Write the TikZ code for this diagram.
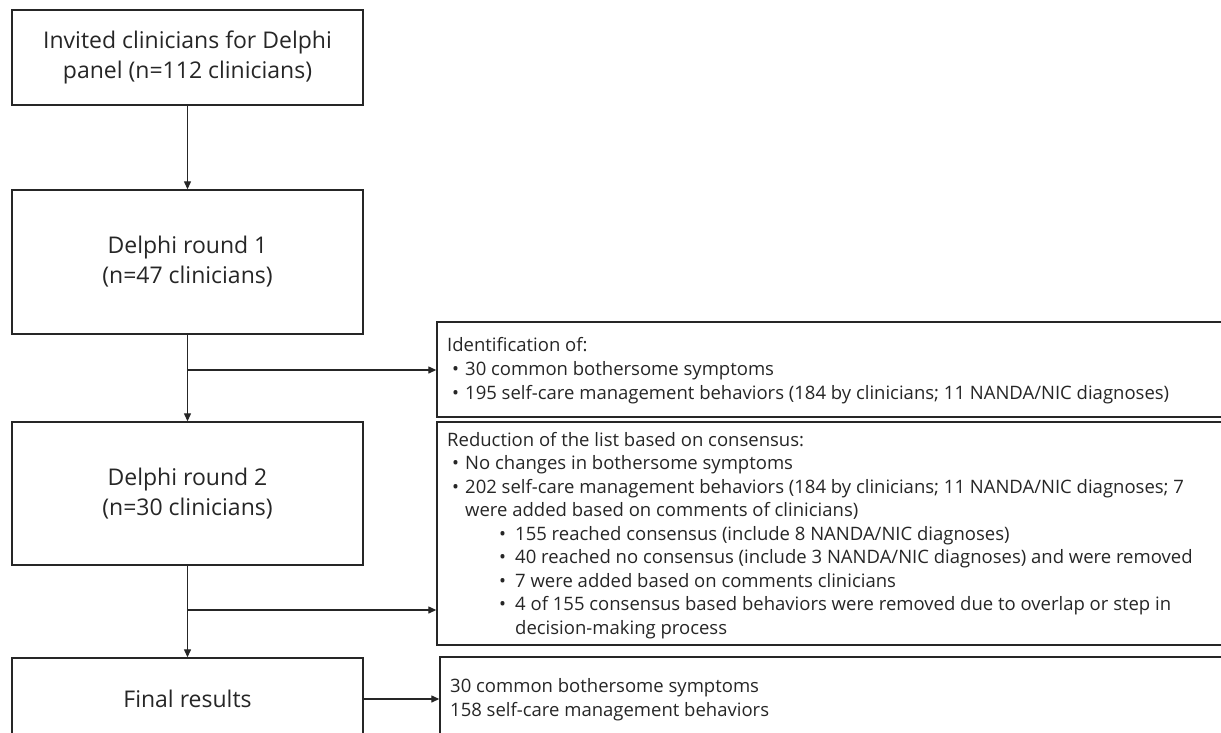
\documentclass[tikz,border=0pt]{standalone}
\usepackage{fontspec}
\setmainfont{Open Sans}
\usetikzlibrary{arrows.meta}
\definecolor{ink}{HTML}{262626}
\newcommand{\bitem}{\makebox[18pt][l]{\hspace*{5pt}•}}
\newcommand{\sitem}{\hspace*{52pt}\makebox[16pt][l]{•}}
\newcommand{\contd}{\hspace*{18pt}}
\begin{document}
\begin{tikzpicture}[x=1pt,y=-1pt,
  leftbox/.style={draw=ink, line width=1.4pt, minimum width=351pt, inner sep=0pt,
    align=center, text=ink, font=\fontsize{23}{30}\selectfont},
  rightbox/.style={draw=ink, line width=1.4pt, inner sep=0pt},
  rtext/.style={anchor=base west, inner sep=0pt, text=ink, font=\fontsize{18.5}{24}\selectfont},
  conn/.style={draw=ink, line width=1.3pt},
  arr/.style={conn, -{Triangle[length=8pt,width=7pt]}}]
\useasboundingbox (0,0) rectangle (1221,733);
\clip (0,0) rectangle (1221,733);
\fill[white] (0,0) rectangle (1221,733);

% left column boxes
\node[leftbox, minimum height=95pt] (b1) at (187.5,57.5) {Invited clinicians for Delphi\\panel (n=112 clinicians)};
\node[leftbox, minimum height=144pt] (b2) at (187.5,262) {Delphi round 1\\(n=47 clinicians)};
\node[leftbox, minimum height=143pt] (b3) at (187.5,493.5) {Delphi round 2\\(n=30 clinicians)};
\node[leftbox, minimum height=82pt] (b4) at (187.5,699) {Final results};

% right column boxes (run past the right edge)
\node[rightbox, minimum width=800pt, minimum height=95pt] (ident) at (837,369.5) {};
\node[rightbox, minimum width=800pt, minimum height=223pt] (red) at (837,533.5) {};
\node[rightbox, minimum width=800pt, minimum height=83pt] (fin) at (840,698.5) {};

% right column texts
\node[rtext] (identtext) at (447,351) {\begin{minipage}[t]{760pt}
Identification of:\\
\bitem 30 common bothersome symptoms\\
\bitem 195 self-care management behaviors (184 by clinicians; 11 NANDA/NIC diagnoses)
\end{minipage}};

\node[rtext, font=\fontsize{18.5}{23.5}\selectfont] (redtext) at (447,446) {\begin{minipage}[t]{770pt}
Reduction of the list based on consensus:\\
\bitem No changes in bothersome symptoms\\
\bitem 202 self-care management behaviors (184 by clinicians; 11 NANDA/NIC diagnoses; 7\\
\contd were added based on comments of clinicians)\\
\sitem 155 reached consensus (include 8 NANDA/NIC diagnoses)\\
\sitem 40 reached no consensus (include 3 NANDA/NIC diagnoses) and were removed\\
\sitem 7 were added based on comments clinicians\\
\sitem 4 of 155 consensus based behaviors were removed due to overlap or step in\\
\hspace*{68pt}decision-making process
\end{minipage}};

\node[rtext] (fintext) at (450,692) {\begin{minipage}[t]{760pt}
30 common bothersome symptoms\\
158 self-care management behaviors
\end{minipage}};

% junction points
\coordinate (j1) at (187.5,370);
\coordinate (j2) at (187.5,610);

% connectors
\draw[arr] (b1.south) -- (b2.north);
\draw[arr] (b2.south) -- (b3.north);
\draw[arr] (j1) -- (j1 -| ident.west);
\draw[arr] (b3.south) -- (b4.north);
\draw[arr] (j2) -- (j2 -| red.west);
\draw[arr] (b4.east) -- (b4.east -| fin.west);
\end{tikzpicture}
\end{document}
